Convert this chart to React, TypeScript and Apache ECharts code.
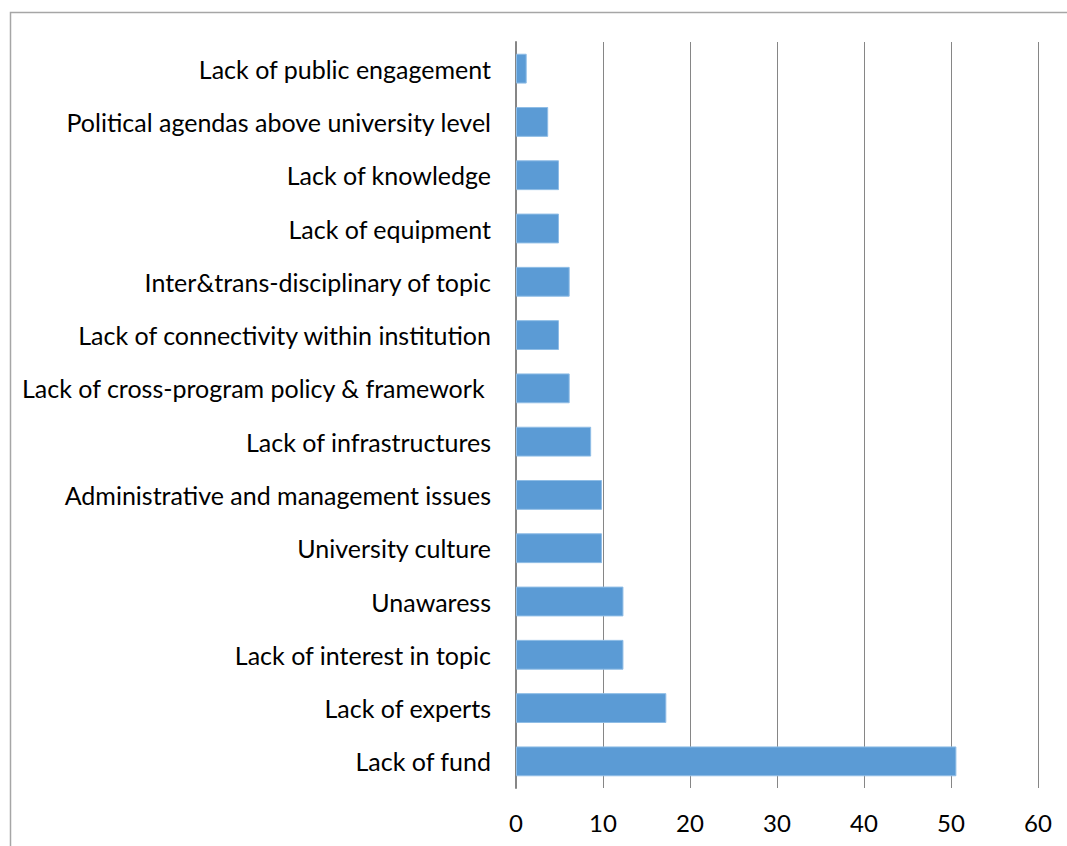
import React, { useEffect, useRef } from "react";
import * as echarts from "echarts";

const categories = [
  "Lack of public engagement",
  "Political agendas above university level",
  "Lack of knowledge",
  "Lack of equipment",
  "Inter&trans-disciplinary of topic",
  "Lack of connectivity within institution",
  "Lack of cross-program policy & framework ",
  "Lack of infrastructures",
  "Administrative and management issues",
  "University culture",
  "Unawaress",
  "Lack of interest in topic",
  "Lack of experts",
  "Lack of fund",
];

const values = [1.23, 3.7, 4.94, 4.94, 6.17, 4.94, 6.17, 8.64, 9.88, 9.88, 12.35, 12.35, 17.28, 50.62];

const xMin = 0;
const xMax = 60;
const xInterval = 10;

const FONT = "Lato";

export default function App() {
  const ref = useRef<HTMLDivElement>(null);
  useEffect(() => {
    if (!ref.current) return;
    const chart = echarts.init(ref.current, undefined, { renderer: "svg" });
    chart.setOption({
      animation: false,
      backgroundColor: "#ffffff",
      graphic: [
        {
          type: "rect",
          shape: { x: 10.5, y: 12.5, width: 1200, height: 1000 },
          style: { fill: "none", stroke: "#a6a6a6", lineWidth: 1.5 },
          silent: true,
        },
      ],
      grid: { left: 516, right: 29, top: 42, bottom: 58, containLabel: false },
      xAxis: {
        type: "value",
        min: xMin,
        max: xMax,
        interval: xInterval,
        axisLine: { show: false },
        axisTick: { show: false },
        splitLine: { show: true, lineStyle: { color: "#868686", width: 1 } },
        axisLabel: { color: "#000", fontFamily: FONT, fontSize: 24, margin: 22 },
      },
      yAxis: {
        type: "category",
        inverse: true,
        data: categories,
        axisLine: { show: true, lineStyle: { color: "#868686", width: 2 } },
        axisTick: { show: false },
        axisLabel: { color: "#000", fontFamily: FONT, fontSize: 25, margin: 25, padding: [0, 0, 3, 0] },
      },
      series: [
        {
          type: "bar",
          data: values,
          barCategoryGap: "44%",
          itemStyle: { color: "#5b9bd5", borderColor: "#8fbde6", borderWidth: 1 },
        },
      ],
    });
    return () => chart.dispose();
  }, []);
  return (
    <div
      ref={ref}
      style={{ position: "fixed", left: 0, top: 0, width: 1067, height: 846 }}
    />
  );
}
